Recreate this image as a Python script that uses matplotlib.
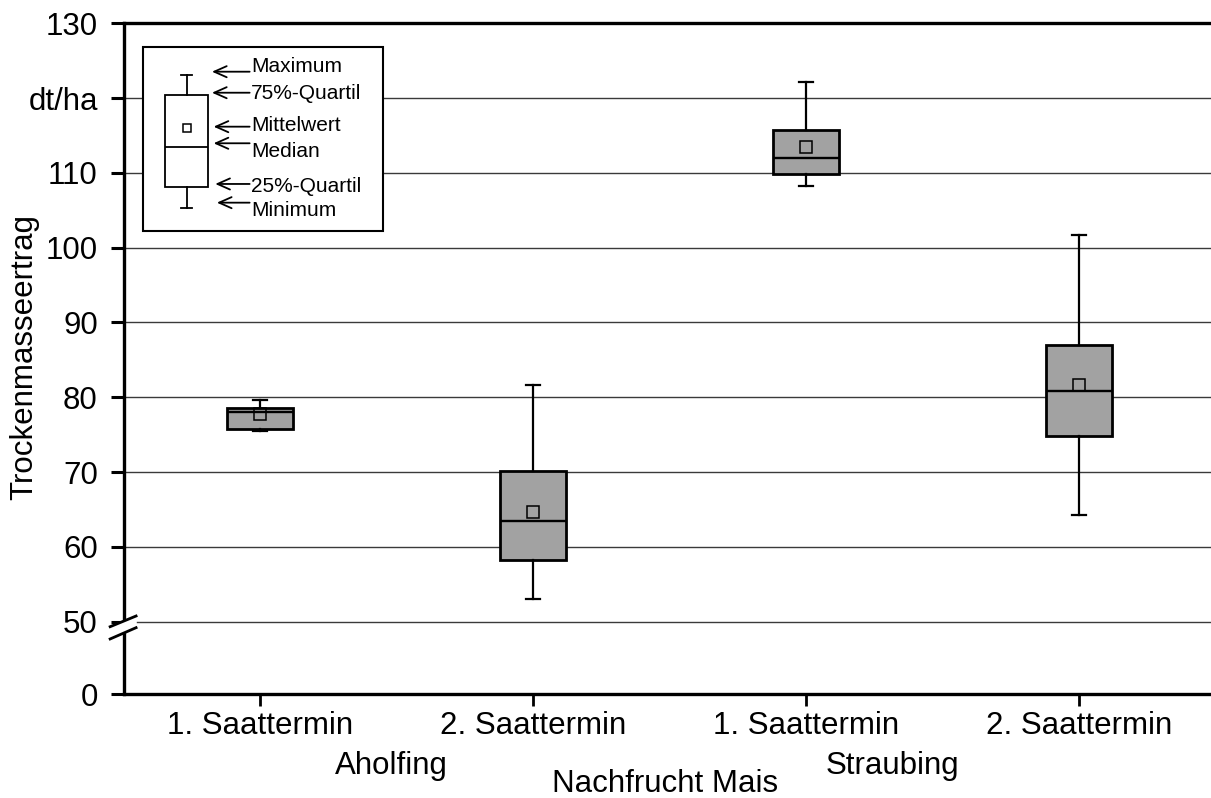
#Boxplot Trockenmasseertrag Nachfrucht Mais

#import libraries
import numpy as np
import matplotlib.pyplot as plt

plt.rcParams['font.family'] = ['Liberation Sans', 'DejaVu Sans']

#categories
termine = ['1. Saattermin', '2. Saattermin', '1. Saattermin', '2. Saattermin']
orte = ['Aholfing', 'Straubing']
gruppe = 'Nachfrucht Mais'

#box statistics (dt/ha)
minimum = [75.45, 53.0, 108.2, 64.3]
quartil_25 = [75.8, 58.3, 109.9, 74.8]
median = [78.1, 63.4, 112.0, 80.9]
quartil_75 = [78.6, 70.1, 115.8, 87.05]
maximum = [79.6, 81.7, 122.2, 101.7]
mittelwert = [77.7, 64.6, 113.4, 81.7]

#example box for the key
key_labels = ['Maximum', '75%-Quartil', 'Mittelwert', 'Median', '25%-Quartil', 'Minimum']
key_values = [123.15, 120.4, 116.0, 113.5, 108.1, 105.3]

#y ticks (axis is broken between 0 and 50)
ytick_values = [0, 50, 60, 70, 80, 90, 100, 110, 120, 130]
ytick_labels = ['0', '50', '60', '70', '80', '90', '100', '110', 'dt/ha', '130']
y_zero_pos = 40.33   # where the 0 sits below the break

fig = plt.figure(figsize=(12.11, 7.98), dpi=100)
ax = fig.add_axes([0.102, 0.1303, 0.9017, 0.8405])

#gridlines
for v in ytick_values[1:-1]:
    ax.axhline(v, color='#3a3a3a', lw=1.0, zorder=0)

#boxes
pos = np.arange(len(termine))
stats = []
for i in range(len(termine)):
    stats.append({'whislo': minimum[i], 'q1': quartil_25[i], 'med': median[i],
                  'q3': quartil_75[i], 'whishi': maximum[i], 'mean': mittelwert[i]})

ax.bxp(stats, positions=pos, widths=0.242, capwidths=0.052, patch_artist=True,
       showmeans=True, showfliers=False,
       boxprops=dict(facecolor='#a2a2a2', edgecolor='black', linewidth=2.0),
       medianprops=dict(color='black', linewidth=1.7),
       whiskerprops=dict(color='black', linewidth=1.6),
       capprops=dict(color='black', linewidth=1.6),
       meanprops=dict(marker='s', markersize=8.5, markerfacecolor='none',
                      markeredgecolor='black', markeredgewidth=1.1),
       zorder=3)

#key box
ax.add_patch(plt.Rectangle((-0.4275, 102.27), 0.879, 24.6, facecolor='white',
                           edgecolor='black', lw=1.5, zorder=4))
key_x = -0.2685
key_stats = [{'whislo': key_values[5], 'q1': key_values[4], 'med': key_values[3],
              'q3': key_values[1], 'whishi': key_values[0], 'mean': key_values[2]}]
ax.bxp(key_stats, positions=[key_x], widths=0.156, capwidths=0.04, patch_artist=True,
       showmeans=True, showfliers=False,
       boxprops=dict(facecolor='white', edgecolor='black', linewidth=1.3),
       medianprops=dict(color='black', linewidth=1.3),
       whiskerprops=dict(color='black', linewidth=1.3),
       capprops=dict(color='black', linewidth=1.3),
       meanprops=dict(marker='s', markersize=6, markerfacecolor='white',
                      markeredgecolor='black', markeredgewidth=1.1),
       zorder=5, manage_ticks=False)

arrow_y = [123.53, 120.72, 116.18, 113.96, 108.52, 106.02]
text_y = [124.2, 120.55, 116.4, 112.83, 108.15, 104.95]
tip_x = [-0.176, -0.176, -0.170, -0.170, -0.164, -0.158]
for lab, ay, ty, tx in zip(key_labels, arrow_y, text_y, tip_x):
    ax.annotate('', xy=(tx, ay), xytext=(-0.038, ay),
                arrowprops=dict(arrowstyle='->,head_length=0.9,head_width=0.4',
                                color='black', lw=1.3, shrinkA=0, shrinkB=0),
                zorder=6)
    ax.text(-0.033, ty, lab, fontsize=15, ha='left', va='center', zorder=6)

#axes
ax.set_xlim(-0.5, 3.5)
ax.set_ylim(y_zero_pos, 130)
ax.set_xticks(pos)
ax.set_xticklabels(termine, fontsize=22.5)
yt = [y_zero_pos] + ytick_values[1:]
ax.set_yticks(yt)
ax.set_yticklabels(ytick_labels, fontsize=22.5)
ax.tick_params(axis='y', direction='out', length=9.5, width=2.2, pad=9)
ax.tick_params(axis='x', direction='out', length=8.5, width=2.0, pad=4)

ax.spines['right'].set_visible(False)
for s in ['left', 'bottom', 'top']:
    ax.spines[s].set_linewidth(2.4)

#axis break marks
bx = [-0.549, -0.454]
ax.fill([bx[0], bx[1], bx[1], bx[0]], [49.33, 50.76, 49.20, 47.69], color='white',
        clip_on=False, zorder=10)
ax.plot(bx, [49.33, 50.76], color='black', lw=2.0, clip_on=False, zorder=11)
ax.plot(bx, [47.69, 49.20], color='black', lw=2.0, clip_on=False, zorder=11)

#group labels
ax.annotate(orte[0], xy=(0.48, 0.030), xycoords=('data', 'figure fraction'),
            ha='center', va='baseline', fontsize=22.5)
ax.annotate(orte[1], xy=(2.315, 0.030), xycoords=('data', 'figure fraction'),
            ha='center', va='baseline', fontsize=22.5)
ax.annotate(gruppe, xy=(1.483, 0.008), xycoords=('data', 'figure fraction'),
            ha='center', va='baseline', fontsize=22.5)

fig.text(0.02, 0.553, 'Trockenmasseertrag', rotation=90, ha='center', va='center',
         fontsize=22.5)

plt.savefig('out.png', dpi=100)
